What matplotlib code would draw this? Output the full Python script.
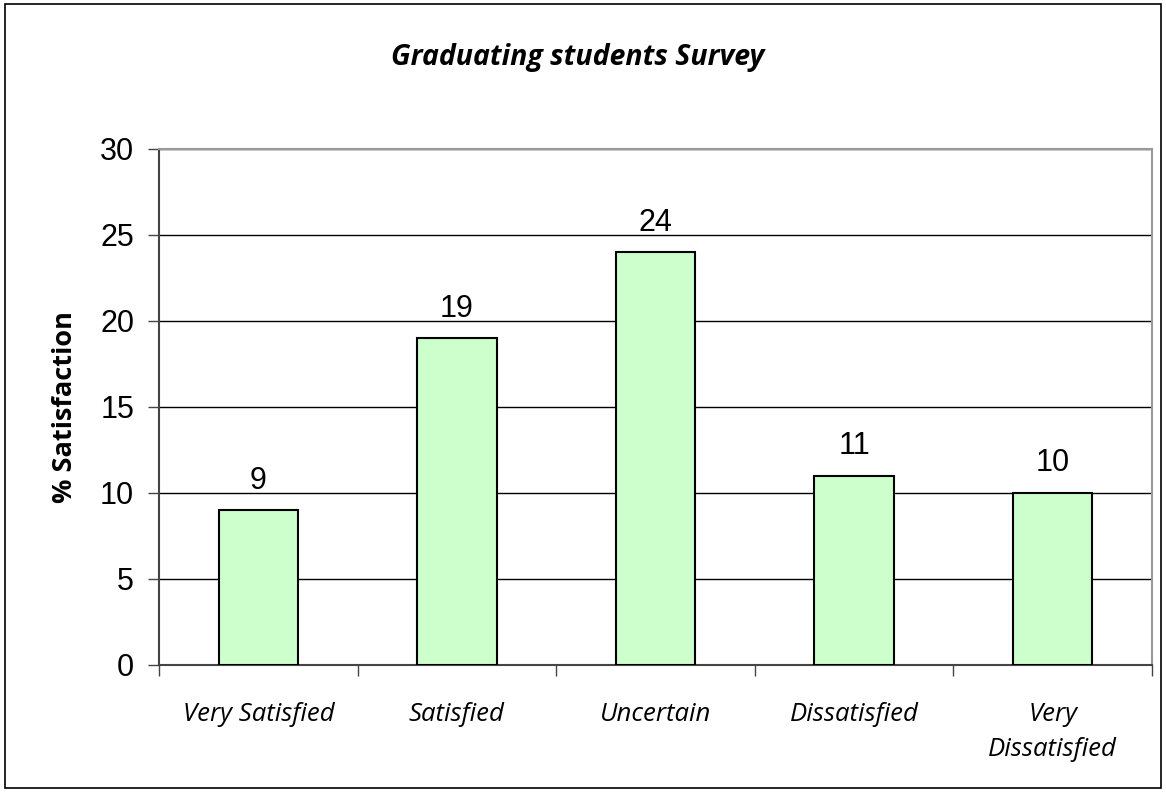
import numpy as np
import matplotlib.pyplot as plt
from matplotlib.patches import Rectangle

categories = ["Very Satisfied", "Satisfied", "Uncertain", "Dissatisfied", "Very\nDissatisfied"]
values = [9, 19, 24, 11, 10]
yticks = [0, 5, 10, 15, 20, 25, 30]

fig = plt.figure(figsize=(11.66, 7.92), dpi=100)
ax = fig.add_axes([0.1364, 0.1604, 0.8516, 0.6515])

# outer chart border
fig.patches.append(Rectangle((0.004, 0.005), 0.992, 0.990, transform=fig.transFigure,
                             fill=False, edgecolor="black", linewidth=1.2))

x = np.arange(len(categories))
bars = ax.bar(x, values, width=0.4, color="#CCFFCC", edgecolor="black", linewidth=1.5, zorder=3)

for xi, v in zip(x, values):
    ax.text(xi, v + 0.85, str(v), ha="center", va="bottom", fontsize=22,
            family="Liberation Sans")

ax.set_xlim(-0.5, len(categories) - 0.5)
ax.set_ylim(0, 30)
ax.set_yticks(yticks)
ax.set_yticklabels([str(t) for t in yticks], fontsize=22, family="Liberation Sans")
ax.yaxis.grid(True, color="black", linewidth=1)
ax.set_axisbelow(True)

# ticks between categories, labels centred under bars
ax.set_xticks(np.arange(-0.5, len(categories), 1.0))
ax.set_xticklabels([])
ax.set_xticks(x, minor=True)
ax.set_xticklabels(categories, minor=True, fontsize=18.5, style="italic", family="Open Sans",
                   linespacing=1.5)
ax.tick_params(axis="x", which="minor", length=0, pad=27)
ax.tick_params(axis="x", which="major", length=8, width=1, color="#444444", direction="out")
ax.tick_params(axis="y", length=8, width=1, color="#444444", pad=10)
for lbl in ax.get_xticklabels(minor=True):
    lbl.set_verticalalignment("top")

for s in ["top", "right"]:
    ax.spines[s].set_color("#999999")
    ax.spines[s].set_linewidth(1.5)
for s in ["left", "bottom"]:
    ax.spines[s].set_color("#444444")
    ax.spines[s].set_linewidth(1.5)

ax.set_ylabel("% Satisfaction", fontsize=19.5, fontweight="bold", family="Open Sans")
ax.yaxis.set_label_coords(-0.082, 0.5)
fig.text(0.495, 0.928, "Graduating students Survey", ha="center", va="center", fontsize=20.5,
         fontweight="bold", style="italic", family="Open Sans")

fig.savefig("out.png", dpi=100)
